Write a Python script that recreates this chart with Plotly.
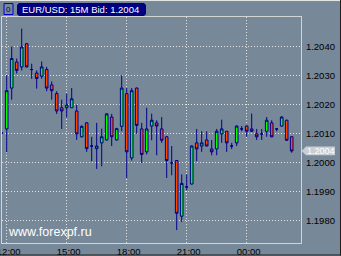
import plotly.graph_objects as go
import pandas as pd

# ---- data (EUR/USD 15M candles) ----
opens = [1.20102, 1.20116, 1.20257, 1.20347, 1.20330, 1.20410, 1.20321, 1.20309, 1.20298, 1.20321,
         1.20268, 1.20238, 1.20189, 1.20189, 1.20189, 1.20178, 1.20089, 1.20137, 1.20057, 1.20048,
         1.20068, 1.20078, 1.20157, 1.20078, 1.20125, 1.20238, 1.20016, 1.20257, 1.20116, 1.20037,
         1.20126, 1.20137, 1.20116, 1.20089, 1.19999, 1.20007, 1.19815, 1.19916, 1.19926, 1.20068,
         1.20057, 1.20078, 1.20047, 1.20047, 1.20099, 1.20108, 1.20057, 1.20068, 1.20116, 1.20126,
         1.20116, 1.20099, 1.20099, 1.20108, 1.20137, 1.20116, 1.20126, 1.20146, 1.20089]
highs = [1.20106, 1.20301, 1.20401, 1.20359, 1.20462, 1.20412, 1.20341, 1.20318, 1.20349, 1.20330,
         1.20280, 1.20246, 1.20217, 1.20238, 1.20257, 1.20199, 1.20128, 1.20140, 1.20089, 1.20137,
         1.20117, 1.20170, 1.20168, 1.20120, 1.20301, 1.20257, 1.20257, 1.20259, 1.20137, 1.20189,
         1.20169, 1.20146, 1.20157, 1.20091, 1.20057, 1.20009, 1.19959, 1.19959, 1.20060, 1.20116,
         1.20108, 1.20108, 1.20078, 1.20116, 1.20148, 1.20108, 1.20068, 1.20128, 1.20126, 1.20128,
         1.20169, 1.20116, 1.20116, 1.20157, 1.20146, 1.20118, 1.20160, 1.20148, 1.20091]
lows = [1.20098, 1.20036, 1.20217, 1.20307, 1.20318, 1.20328, 1.20289, 1.20255, 1.20289, 1.20246,
        1.20217, 1.20168, 1.20116, 1.20156, 1.20189, 1.20078, 1.20086, 1.20037, 1.20005, 1.19978,
        1.19987, 1.20076, 1.20057, 1.20076, 1.20108, 1.19947, 1.20007, 1.20099, 1.19999, 1.20028,
        1.20077, 1.20025, 1.20068, 1.19947, 1.19956, 1.19767, 1.19795, 1.19905, 1.19924, 1.20005,
        1.20037, 1.20057, 1.20025, 1.20025, 1.20068, 1.20037, 1.20047, 1.20057, 1.20108, 1.20089,
        1.20106, 1.20078, 1.20078, 1.20089, 1.20087, 1.20108, 1.20124, 1.20075, 1.20034]
closes = [1.20102, 1.20248, 1.20359, 1.20318, 1.20399, 1.20330, 1.20321, 1.20290, 1.20330, 1.20257,
          1.20248, 1.20178, 1.20178, 1.20199, 1.20220, 1.20099, 1.20125, 1.20048, 1.20057, 1.20057,
          1.20089, 1.20168, 1.20089, 1.20117, 1.20257, 1.20037, 1.20248, 1.20128, 1.20028, 1.20116,
          1.20146, 1.20126, 1.20077, 1.20007, 1.19999, 1.19825, 1.19928, 1.19916, 1.20057, 1.20047,
          1.20068, 1.20057, 1.20037, 1.20108, 1.20116, 1.20068, 1.20057, 1.20126, 1.20116, 1.20108,
          1.20108, 1.20089, 1.20099, 1.20146, 1.20089, 1.20116, 1.20157, 1.20077, 1.20040]

start_time = "2005-06-01 11:45"
tick_times = ["2005-06-01 12:00", "2005-06-01 15:00", "2005-06-01 18:00",
              "2005-06-01 21:00", "2005-06-02 00:00"]
tick_labels = ["12:00", "15:00", "18:00", "21:00", "00:00"]
price_ticks = [1.1980, 1.1990, 1.2000, 1.2010, 1.2020, 1.2030, 1.2040]
title_text = "EUR/USD: 15M Bid: 1.2004"
bid_text = "1.2004"
watermark = "www.forexpf.ru"

times = pd.date_range(start_time, periods=len(opens), freq="15min")

# ---- layout geometry ----
W, H = 341, 256
L, R, T, B = 2, 40, 17, 12.5
pw, ph = W - L - R, H - T - B
bar_px = 5.0
first_px = 1.7
t0 = times[0]
xmin = t0 + pd.Timedelta(minutes=15 * (L - first_px) / bar_px)
xmax = t0 + pd.Timedelta(minutes=15 * (W - R - first_px) / bar_px)
ymin, ymax = 1.197225, 1.205022


def px(xp):
    return (xp - L) / pw


def py(yp):
    return (H - B - yp) / ph


BG = "#778899"
NAVY = "#00008b"
FONT = "Liberation Sans"
GRID = "#e4e4e4"

fig = go.Figure()
fig.add_trace(go.Candlestick(
    x=times, open=opens, high=highs, low=lows, close=closes,
    increasing=dict(line=dict(color=NAVY, width=1), fillcolor="#00ff00"),
    decreasing=dict(line=dict(color=NAVY, width=1), fillcolor="#ff4500"),
    whiskerwidth=0, showlegend=False, hoverinfo="skip",
))

shapes = []
# title box (chamfered)
x1, x2, y1, y2, c = 17, 146, 3, 16, 2
shapes.append(dict(
    type="path", xref="paper", yref="paper",
    path=(f"M {px(x1+c)},{py(y1)} L {px(x2-c)},{py(y1)} L {px(x2)},{py(y1+c)} "
          f"L {px(x2)},{py(y2-c)} L {px(x2-c)},{py(y2)} L {px(x1+c)},{py(y2)} "
          f"L {px(x1)},{py(y2-c)} L {px(x1)},{py(y1+c)} Z"),
    fillcolor="#000080", line=dict(color="#000080", width=0), layer="above"))
# icon
shapes.append(dict(type="rect", xref="paper", yref="paper",
                   x0=px(4), x1=px(13), y0=py(14.5), y1=py(3.5),
                   fillcolor=BG, line=dict(color="#0000cd", width=1), layer="above"))
# bid marker arrow
last = closes[-1]
yc = (last - ymin) / (ymax - ymin)
hh = 4.4 / ph
shapes.append(dict(
    type="path", xref="paper", yref="paper",
    path=(f"M {px(301.5)},{yc} L {px(306)},{yc+hh} L {px(335)},{yc+hh} "
          f"L {px(335)},{yc-hh} L {px(306)},{yc-hh} Z"),
    fillcolor="#c8ced4", line=dict(width=0), layer="above"))
# outer window edges
shapes.append(dict(type="line", xref="paper", yref="paper",
                   x0=px(0), x1=px(341), y0=py(0.5), y1=py(0.5),
                   line=dict(color="#e8e8e8", width=1)))
shapes.append(dict(type="line", xref="paper", yref="paper",
                   x0=px(340.5), x1=px(340.5), y0=py(0), y1=py(256),
                   line=dict(color="#202020", width=1)))
shapes.append(dict(type="line", xref="paper", yref="paper",
                   x0=px(0), x1=px(341), y0=py(255.5), y1=py(255.5),
                   line=dict(color="#202020", width=1)))

annotations = [
    dict(text=title_text, xref="paper", yref="paper", x=px(20), y=py(9.5),
         xanchor="left", yanchor="middle", showarrow=False,
         font=dict(family=FONT, size=9.5, color="white")),
    dict(text="0", xref="paper", yref="paper", x=px(8.5), y=py(9),
         xanchor="center", yanchor="middle", showarrow=False,
         font=dict(family=FONT, size=8, color="#000060")),
    dict(text=bid_text, xref="paper", yref="paper", x=px(304.5), y=yc,
         xanchor="left", yanchor="middle", showarrow=False,
         font=dict(family=FONT, size=9, color="white")),
    dict(text=watermark, xref="paper", yref="paper", x=px(6), y=py(232.5),
         xanchor="left", yanchor="middle", showarrow=False,
         font=dict(family=FONT, size=12.5, color="white")),
]

fig.update_layout(
    width=W, height=H,
    margin=dict(l=L, r=R, t=T, b=B, autoexpand=False),
    paper_bgcolor=BG, plot_bgcolor=BG,
    boxgap=0.25,
    shapes=shapes, annotations=annotations,
    font=dict(family=FONT, size=9.5, color="black"),
    xaxis=dict(
        type="date", range=[xmin, xmax], rangeslider=dict(visible=False),
        tickmode="array", tickvals=tick_times, ticktext=tick_labels,
        ticklabeloverflow="allow", ticklabelshift=2,
        showgrid=True, gridcolor=GRID, griddash="1px,2px", gridwidth=1,
        showline=True, linecolor="#d4d4d4", linewidth=1, mirror=True,
        ticks="", zeroline=False, automargin=False, fixedrange=True,
    ),
    yaxis=dict(
        side="right", range=[ymin, ymax],
        tickmode="array", tickvals=price_ticks, tickformat=".4f",
        showgrid=True, gridcolor=GRID, griddash="1px,2px", gridwidth=1,
        showline=True, linecolor="#d4d4d4", linewidth=1, mirror=True,
        ticks="", zeroline=False, automargin=False, fixedrange=True,
        ticklabelstandoff=2,
    ),
)

fig.write_html("out.html")
